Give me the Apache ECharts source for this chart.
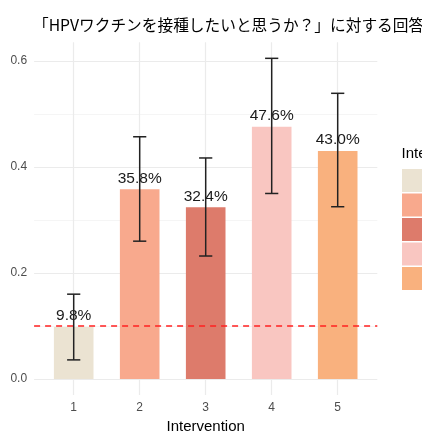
<!DOCTYPE html>
<html>
<head>
<meta charset="utf-8">
<script src="https://cdn.jsdelivr.net/npm/echarts@6/dist/echarts.min.js"></script>
<style>html,body{margin:0;padding:0;background:#fff}#c{width:422px;height:433px}</style>
</head>
<body>
<div id="c"></div>
<script>
const titleText = '「HPVワクチンを接種したいと思うか？」に対する回答';
const categories = [1, 2, 3, 4, 5];
const categoryNames = ['1', '2', '3', '4', '5'];
const proportions = [0.098, 0.358, 0.324, 0.476, 0.430];
const lowerCI = [0.036, 0.260, 0.232, 0.350, 0.325];
const upperCI = [0.160, 0.457, 0.417, 0.605, 0.539];
const referenceLine = 0.098;
const yTickLabels = [0, 0.2, 0.4, 0.6];
const yGridValues = [0, 0.1, 0.2, 0.3, 0.4, 0.5, 0.6];
const colors = ['#EBE3D2', '#F8A98D', '#DD7B6B', '#F9C6C1', '#F9B17E'];

const hi = Math.max(...upperCI), lo = 0;
const pad = (hi - lo) * 0.05;

const chart = echarts.init(document.getElementById('c'), null, {renderer: 'canvas'});

const barSeries = categories.map((c, i) => ({
  type: 'bar',
  name: categoryNames[i],
  data: [[c, proportions[i]]],
  barWidth: '60%',
  barGap: '-100%',
  itemStyle: {color: colors[i]},
  label: {
    show: true, position: 'top', distance: 3,
    formatter: p => (p.value[1] * 100).toFixed(1) + '%',
    fontSize: 15.5, color: '#1a1a1a', fontFamily: 'Liberation Sans'
  },
  z: 2,
  markLine: i === 0 ? {
    silent: true, symbol: 'none', label: {show: false},
    lineStyle: {color: '#ff2020', type: [6, 5], width: 1.6},
    data: [{yAxis: referenceLine}]
  } : undefined
}));

const errSeries = {
  type: 'custom',
  name: 'err',
  data: categories.map((c, i) => [c, lowerCI[i], upperCI[i]]),
  encode: {x: 0, y: [1, 2]},
  z: 5,
  renderItem: function (params, api) {
    const x = api.value(0);
    const pLo = api.coord([x, api.value(1)]);
    const pHi = api.coord([x, api.value(2)]);
    const half = api.size([0.2, 0])[0] / 2;
    const style = {stroke: '#222', lineWidth: 1.5};
    return {
      type: 'group',
      children: [
        {type: 'line', shape: {x1: pLo[0], y1: pLo[1], x2: pHi[0], y2: pHi[1]}, style},
        {type: 'line', shape: {x1: pLo[0] - half, y1: pLo[1], x2: pLo[0] + half, y2: pLo[1]}, style},
        {type: 'line', shape: {x1: pHi[0] - half, y1: pHi[1], x2: pHi[0] + half, y2: pHi[1]}, style}
      ]
    };
  }
};

chart.setOption({
  animation: false,
  backgroundColor: '#ffffff',
  title: [
    {text: titleText, left: 33, top: 17, padding: 0,
     textStyle: {fontSize: 15.7, fontWeight: 'normal', color: '#000', fontFamily: 'Noto Sans CJK JP'}},
    {text: 'Intervention', left: 401.5, top: 146, padding: 0,
     textStyle: {fontSize: 15, fontWeight: 'normal', color: '#000', fontFamily: 'Liberation Sans'}}
  ],
  legend: {
    orient: 'vertical', left: 402, top: 169, padding: 0,
    itemWidth: 23, itemHeight: 23, itemGap: 1.5,
    icon: 'rect', data: categoryNames,
    textStyle: {fontSize: 12, color: '#000'}
  },
  grid: {left: 34.1, right: 44.7, top: 42.3, bottom: 38, outerBoundsMode: 'none'},
  xAxis: {
    type: 'value', min: 0.4, max: 5.6,
    name: 'Intervention', nameLocation: 'middle', nameGap: 22,
    nameTextStyle: {fontSize: 15, color: '#000', fontFamily: 'Liberation Sans'},
    axisLine: {show: false},
    axisTick: {show: false, customValues: categories},
    axisLabel: {customValues: categories, fontSize: 12, color: '#4D4D4D', margin: 7, fontFamily: 'Liberation Sans'},
    splitLine: {show: true, lineStyle: {color: '#EBEBEB', width: 1.2}}
  },
  yAxis: {
    type: 'value', min: lo - pad, max: hi + pad,
    axisLine: {show: false},
    axisTick: {show: false, customValues: yGridValues},
    axisLabel: {customValues: yTickLabels, fontSize: 12, color: '#4D4D4D', margin: 7,
      fontFamily: 'Liberation Sans', formatter: v => v.toFixed(1)},
    splitLine: {show: true, lineStyle: {color: ['#EBEBEB', '#F5F5F5'], width: 1.2}}
  },
  series: [...barSeries, errSeries]
});
</script>
</body>
</html>
